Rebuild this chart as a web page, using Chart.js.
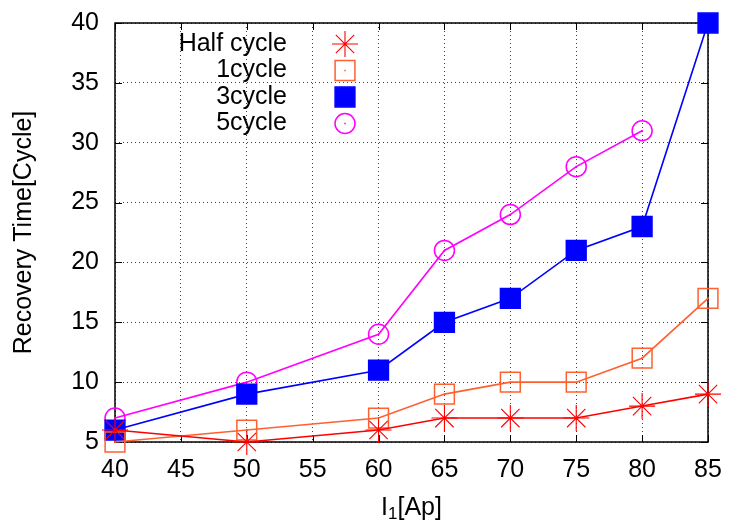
<!DOCTYPE html>
<html>
<head>
<meta charset="utf-8">
<script src="https://cdn.jsdelivr.net/npm/chart.js@4/dist/chart.umd.min.js"></script>
<style>
  html, body { margin: 0; padding: 0; background: #fff; }
  canvas { display: block; }
</style>
</head>
<body>
<canvas id="chart" width="730" height="522"></canvas>
<script>
// Recovery time versus current I1 for several fault durations
const currents   = [40, 50, 60, 65, 70, 75, 80, 85];
const halfCycle  = [6, 5, 6, 7, 7, 7, 8, 9];
const oneCycle   = [5, 6, 7, 9, 10, 10, 12, 17];
const threeCycle = [6, 9, 11, 15, 17, 21, 23, 40];
const fiveCycle  = [7, 10, 14, 21, 24, 28, 31];
const seriesNames = ['Half cycle', '1cycle', '3cycle', '5cycle'];
const xTicks = [40, 45, 50, 55, 60, 65, 70, 75, 80, 85];
const yTicks = [5, 10, 15, 20, 25, 30, 35, 40];

const FONT = "'Liberation Sans', Arial, sans-serif";
const FONT_SIZE = 25;

const pairs = (ys) => ys.map((y, i) => ({ x: currents[i], y }));

const seriesStyles = [
  { color: '#ff0000', style: 'star',   radius: 13, fill: false, mw: 1.1 },
  { color: '#ff6030', style: 'rect',   radius: 14, fill: false, mw: 1.5 },
  { color: '#0000ff', style: 'rect',   radius: 14, fill: true,  mw: 1.5 },
  { color: '#ff00ff', style: 'circle', radius: 10, fill: false, mw: 1.5 }
];
const seriesValues = [halfCycle, oneCycle, threeCycle, fiveCycle];

const datasets = seriesValues.map((vals, i) => {
  const s = seriesStyles[i];
  return {
    label: seriesNames[i],
    data: pairs(vals),
    borderColor: s.color,
    backgroundColor: s.fill ? s.color : 'rgba(0,0,0,0)',
    borderWidth: 1.6,
    pointStyle: s.style,
    pointRadius: s.radius,
    pointHoverRadius: s.radius,
    pointBorderColor: s.color,
    pointBackgroundColor: s.fill ? s.color : 'rgba(0,0,0,0)',
    pointBorderWidth: s.mw,
    tension: 0,
    clip: false
  };
});

// Marker shapes for the key, same geometry as the chart's point styles
function drawMarker(ctx, s, x, y) {
  const r = s.radius;
  ctx.save();
  ctx.strokeStyle = s.color;
  ctx.fillStyle = s.color;
  ctx.lineWidth = s.mw;
  ctx.beginPath();
  if (s.style === 'star') {
    const d = r * Math.SQRT1_2;
    ctx.moveTo(x - r, y); ctx.lineTo(x + r, y);
    ctx.moveTo(x, y - r); ctx.lineTo(x, y + r);
    ctx.moveTo(x - d, y - d); ctx.lineTo(x + d, y + d);
    ctx.moveTo(x - d, y + d); ctx.lineTo(x + d, y - d);
    ctx.stroke();
  } else if (s.style === 'rect') {
    const h = r * Math.SQRT1_2;
    ctx.rect(x - h, y - h, 2 * h, 2 * h);
    if (s.fill) ctx.fill();
    ctx.stroke();
  } else {
    ctx.arc(x, y, r, 0, Math.PI * 2);
    ctx.stroke();
  }
  if (!s.fill && s.style !== 'star') {
    ctx.fillRect(x - 0.75, y - 0.75, 1.5, 1.5);
  }
  ctx.restore();
}

const framePlugin = {
  id: 'frame',
  beforeDatasetsDraw(chart) {
    const { ctx, chartArea: a, scales } = chart;
    ctx.save();
    ctx.strokeStyle = '#000';
    ctx.lineWidth = 1.5;
    ctx.strokeRect(a.left, a.top, a.right - a.left, a.bottom - a.top);
    ctx.lineWidth = 1;
    const tl = 7;
    ctx.beginPath();
    xTicks.forEach(v => {
      const px = Math.round(scales.x.getPixelForValue(v)) + 0.5;
      ctx.moveTo(px, a.bottom); ctx.lineTo(px, a.bottom - tl);
      ctx.moveTo(px, a.top); ctx.lineTo(px, a.top + tl);
    });
    yTicks.forEach(v => {
      const py = Math.round(scales.y.getPixelForValue(v)) + 0.5;
      ctx.moveTo(a.left, py); ctx.lineTo(a.left + tl, py);
      ctx.moveTo(a.right, py); ctx.lineTo(a.right - tl, py);
    });
    ctx.stroke();
    ctx.restore();
  },
  afterDatasetsDraw(chart) {
    const { ctx } = chart;
    // small centre dots inside the open markers
    [1, 3].forEach(i => {
      const meta = chart.getDatasetMeta(i);
      ctx.save();
      ctx.fillStyle = seriesStyles[i].color;
      meta.data.forEach(p => ctx.fillRect(p.x - 0.75, p.y - 0.75, 1.5, 1.5));
      ctx.restore();
    });
  },
  afterDraw(chart) {
    const { ctx, chartArea: a } = chart;
    ctx.save();
    ctx.fillStyle = '#000';
    ctx.font = `${FONT_SIZE}px ${FONT}`;

    // key: right-aligned names, markers to the right
    ctx.textAlign = 'right';
    ctx.textBaseline = 'middle';
    const keyTextX = 287, keyMarkX = 345, keyY0 = 44, keyStep = 26.5;
    seriesNames.forEach((name, i) => {
      const y = keyY0 + i * keyStep;
      ctx.fillText(name, keyTextX, y);
      drawMarker(ctx, seriesStyles[i], keyMarkX, y);
    });

    // y axis title
    ctx.save();
    ctx.translate(24, (a.top + a.bottom) / 2);
    ctx.rotate(-Math.PI / 2);
    ctx.textAlign = 'center';
    ctx.textBaseline = 'middle';
    ctx.fillText('Recovery Time[Cycle]', 0, 0);
    ctx.restore();

    // x axis title with subscript
    const subFont = `17px ${FONT}`;
    const mainFont = `${FONT_SIZE}px ${FONT}`;
    ctx.textAlign = 'left';
    ctx.textBaseline = 'alphabetic';
    ctx.font = mainFont;
    const wI = ctx.measureText('I').width;
    const wRest = ctx.measureText('[Ap]').width;
    ctx.font = subFont;
    const wSub = ctx.measureText('1').width;
    const total = wI + wSub + wRest;
    let x = (a.left + a.right) / 2 - total / 2;
    const base = 515;
    ctx.font = mainFont;
    ctx.fillText('I', x, base); x += wI;
    ctx.font = subFont;
    ctx.fillText('1', x, base + 4); x += wSub;
    ctx.font = mainFont;
    ctx.fillText('[Ap]', x, base);
    ctx.restore();
  }
};

new Chart(document.getElementById('chart'), {
  type: 'line',
  data: { datasets },
  options: {
    responsive: false,
    animation: false,
    events: [],
    layout: { padding: { left: 0, right: 22, top: 23, bottom: 0 } },
    plugins: { legend: { display: false }, tooltip: { enabled: false } },
    scales: {
      x: {
        type: 'linear',
        min: 40, max: 85,
        afterFit(scale) { scale.height = 80; },
        afterBuildTicks(scale) { scale.ticks = xTicks.map(v => ({ value: v })); },
        grid: { color: 'rgba(0,0,0,0.75)', lineWidth: 1, drawTicks: true, tickLength: 13, tickColor: 'rgba(0,0,0,0)' },
        border: { display: false, dash: [1, 3] },
        ticks: { color: '#000', padding: 0, font: { family: FONT, size: FONT_SIZE } }
      },
      y: {
        type: 'linear',
        min: 5, max: 40,
        afterFit(scale) { scale.width = 115; },
        afterBuildTicks(scale) { scale.ticks = yTicks.map(v => ({ value: v })); },
        grid: { color: 'rgba(0,0,0,0.75)', lineWidth: 1, drawTicks: true, tickLength: 16, tickColor: 'rgba(0,0,0,0)' },
        border: { display: false, dash: [1, 3] },
        ticks: { color: '#000', padding: 0, font: { family: FONT, size: FONT_SIZE } }
      }
    }
  },
  plugins: [framePlugin]
});
</script>
</body>
</html>
